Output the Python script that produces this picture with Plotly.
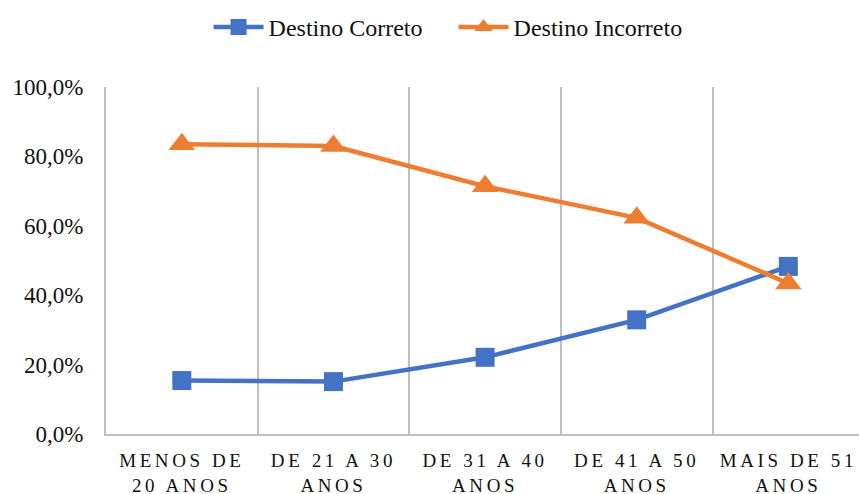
import plotly.graph_objects as go

# Faixas etárias e percentuais por destino
categorias = ["MENOS DE<br>20 ANOS", "DE 21 A 30<br>ANOS", "DE 31 A 40<br>ANOS",
              "DE 41 A 50<br>ANOS", "MAIS DE 51<br>ANOS"]
destino_correto = [15.4, 15.1, 22.1, 32.9, 48.3]
destino_incorreto = [83.5, 83.0, 71.4, 62.3, 43.4]
y_ticks = [0, 20, 40, 60, 80, 100]

AZUL = "#4472C4"
LARANJA = "#ED7D31"
CINZA = "#BFBFBF"
FONTE = "Liberation Serif"

x_pos = list(range(len(categorias)))
ESP = '<span style="letter-spacing:3.6px">'
rotulos = [ESP + c.replace("<br>", "</span><br>" + ESP) + "</span>" for c in categorias]
y_rotulos = [f"{v:.1f}".replace(".", ",") + "%" for v in y_ticks]

fig = go.Figure()
fig.add_trace(go.Scatter(
    x=x_pos, y=destino_correto, name="Destino Correto", mode="lines+markers",
    line=dict(color=AZUL, width=4.5),
    marker=dict(symbol="square", size=19, color=AZUL),
))
fig.add_trace(go.Scatter(
    x=x_pos, y=destino_incorreto, name="Destino Incorreto", mode="lines+markers",
    line=dict(color=LARANJA, width=4.5),
    marker=dict(symbol="triangle-up", size=23, color=LARANJA),
))

fig.update_layout(
    width=859, height=494,
    margin=dict(l=106, r=0, t=87, b=60, autoexpand=False),
    paper_bgcolor="white", plot_bgcolor="white",
    font=dict(family=FONTE, size=20, color="#111111"),
    showlegend=True,
    legend=dict(orientation="h", xref="container", yref="container",
                x=0.528, y=0.99, xanchor="center", yanchor="top",
                font=dict(family=FONTE, size=24), itemwidth=50, tracegroupgap=0,
                entrywidth=180, entrywidthmode="pixels"),
    xaxis=dict(
        range=[-0.5, 4.466], tickmode="array", tickvals=x_pos, ticktext=rotulos,
        showgrid=False, zeroline=False, showline=True, linecolor=CINZA, linewidth=2,
        ticks="", tickfont=dict(family=FONTE, size=19), ticklabelstandoff=8,
        ticklabeloverflow="allow", automargin=False,
        minor=dict(tick0=0.5, dtick=1, showgrid=True, gridcolor=CINZA, gridwidth=2, ticks=""),
    ),
    yaxis=dict(
        range=[0, 100], tickmode="array", tickvals=y_ticks, ticktext=y_rotulos,
        showgrid=False, zeroline=False, showline=True, linecolor=CINZA, linewidth=2,
        ticks="", ticklabelstandoff=16, tickfont=dict(family=FONTE, size=23),
        automargin=False,
    ),
)

fig.write_html("out.html")
